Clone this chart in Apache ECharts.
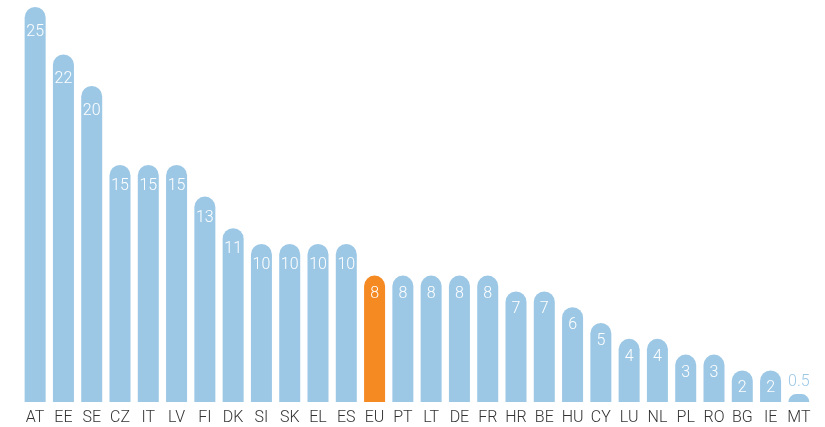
<!DOCTYPE html>
<html>
<head>
<meta charset="utf-8">
<script src="https://cdn.jsdelivr.net/npm/echarts@6/dist/echarts.min.js"></script>
<style>
html,body{margin:0;padding:0;background:#fff;}
#chart{width:825px;height:427px;}
</style>
</head>
<body>
<div id="chart"></div>
<script>
const categories = ['AT','EE','SE','CZ','IT','LV','FI','DK','SI','SK','EL','ES','EU','PT','LT','DE','FR','HR','BE','HU','CY','LU','NL','PL','RO','BG','IE','MT'];
const values = [25,22,20,15,15,15,13,11,10,10,10,10,8,8,8,8,8,7,7,6,5,4,4,3,3,2,2,0.5];
const highlight = 'EU';

const BLUE = '#9cc8e6';
const ORANGE = '#f58a22';

const data = values.map((v, i) => {
  const item = { value: v, itemStyle: { color: categories[i] === highlight ? ORANGE : BLUE } };
  if (v < 1) {
    item.label = { position: 'top', color: BLUE, distance: 4 };
  } else {
    item.label = { distance: v >= 20 ? 17 : (v >= 10 ? 13 : 10) };
  }
  return item;
});

const chart = echarts.init(document.getElementById('chart'), null, { renderer: 'canvas' });
chart.setOption({
  animation: false,
  grid: { left: 21, right: 12, top: 7, bottom: 25, containLabel: false },
  xAxis: {
    type: 'category',
    data: categories,
    axisLine: { show: false },
    axisTick: { show: false },
    axisLabel: { color: '#333333', fontSize: 16, fontFamily: 'Roboto', fontWeight: 300, margin: 8, interval: 0 }
  },
  yAxis: {
    type: 'value',
    min: 0,
    max: 25,
    show: false,
    splitLine: { show: false }
  },
  series: [{
    type: 'bar',
    data: data,
    barWidth: 21,
    itemStyle: { borderRadius: [11, 11, 0, 0] },
    label: {
      show: true,
      position: 'insideTop',
      color: '#ffffff',
      fontSize: 16,
      fontFamily: 'Roboto',
      fontWeight: 300
    }
  }]
});
</script>
</body>
</html>
